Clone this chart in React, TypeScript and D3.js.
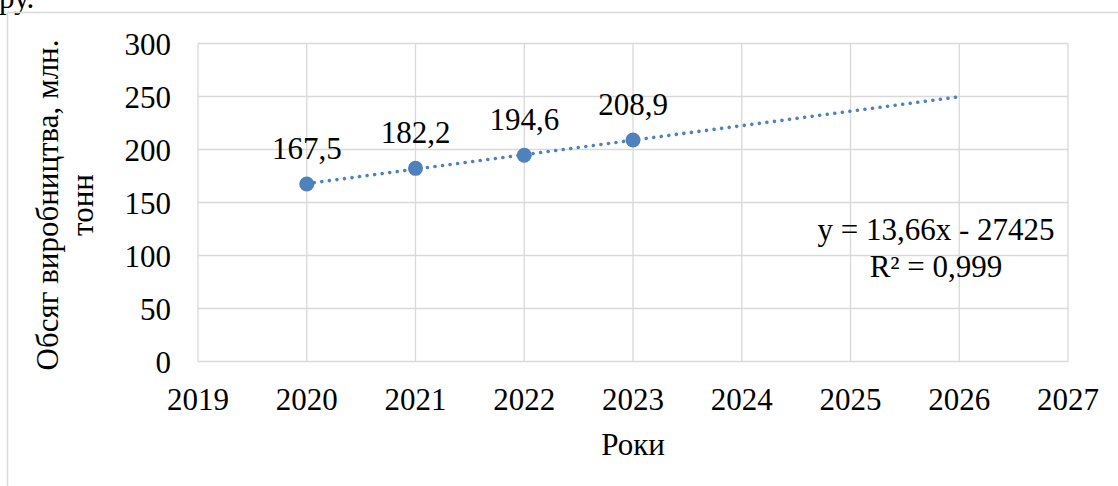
import React from "react";
import * as d3 from "d3";

// Production volume by year
const years: number[] = [2020, 2021, 2022, 2023];
const volumes: number[] = [167.5, 182.2, 194.6, 208.9];

// Axis ticks
const xTicks: number[] = [2019, 2020, 2021, 2022, 2023, 2024, 2025, 2026, 2027];
const yTicks: number[] = [0, 50, 100, 150, 200, 250, 300];

// Linear trend is projected forward to this year
const trendEnd = 2026;

const W = 1118;
const H = 486;
const FONT = '"Liberation Serif", "Times New Roman", serif';
const BLUE = "#4f81bd";
const GRID = "#d9d9d9";

const fmt = (v: number, digits: number) => v.toFixed(digits).replace(".", ",");

function linearFit(xs: number[], ys: number[]) {
  const mx = d3.mean(xs)!;
  const my = d3.mean(ys)!;
  let sxy = 0;
  let sxx = 0;
  let sst = 0;
  xs.forEach((x, i) => {
    sxy += (x - mx) * (ys[i] - my);
    sxx += (x - mx) * (x - mx);
    sst += (ys[i] - my) * (ys[i] - my);
  });
  const slope = sxy / sxx;
  const intercept = my - slope * mx;
  const r2 = (slope * slope * sxx) / sst;
  return { slope, intercept, r2 };
}

export default function App() {
  const left = 198;
  const right = 1068;
  const top = 43.5;
  const bottom = 361.5;

  const x = d3.scaleLinear().domain([2019, 2027]).range([left, right]);
  const y = d3.scaleLinear().domain([0, 300]).range([bottom, top]);

  const fit = linearFit(years, volumes);
  const trendYears = [years[0], trendEnd];
  const trendPath = d3
    .line<number>()
    .x((d) => x(d))
    .y((d) => y(fit.slope * d + fit.intercept))(trendYears) as string;

  const sign = fit.intercept < 0 ? "-" : "+";
  const eqText = `y = ${fmt(fit.slope, 2)}x ${sign} ${Math.round(Math.abs(fit.intercept))}`;
  const r2Text = `R² = ${fmt(fit.r2, 3)}`;

  const titleY = 205;

  return (
    <svg
      width={W}
      height={H}
      style={{ position: "absolute", left: 0, top: 0, background: "#fff" }}
      fontFamily={FONT}
    >
      {/* text from the surrounding page */}
      <text x={-1} y={8} fontSize={31} fill="#000">
        ру.
      </text>
      {/* frame of the chart object */}
      <line x1={7.5} x2={W} y1={12.5} y2={12.5} stroke={GRID} strokeWidth={1.5} />
      <line x1={7.5} x2={7.5} y1={12.5} y2={H} stroke={GRID} strokeWidth={1.5} />

      {/* gridlines */}
      {yTicks.map((t) => (
        <line key={"gy" + t} x1={left} x2={right} y1={y(t)} y2={y(t)} stroke={GRID} strokeWidth={1.3} />
      ))}
      {xTicks.map((t) => (
        <line key={"gx" + t} x1={x(t)} x2={x(t)} y1={top} y2={bottom} stroke={GRID} strokeWidth={1.3} />
      ))}

      {/* tick labels */}
      {yTicks.map((t) => (
        <text key={"ty" + t} x={171} y={y(t) + 11} textAnchor="end" fontSize={31} fill="#000">
          {t}
        </text>
      ))}
      {xTicks.map((t) => (
        <text key={"tx" + t} x={x(t)} y={410} textAnchor="middle" fontSize={31} fill="#000">
          {t}
        </text>
      ))}

      {/* axis titles */}
      <text x={(left + right) / 2} y={455} textAnchor="middle" fontSize={31} fill="#000">
        Роки
      </text>
      <g transform={`translate(58, ${titleY}) rotate(-90)`}>
        <text x={0} y={0} textAnchor="middle" fontSize={31} fill="#000">
          Обсяг виробництва, млн.
        </text>
      </g>
      <g transform={`translate(93, ${titleY}) rotate(-90)`}>
        <text x={0} y={0} textAnchor="middle" fontSize={31} fill="#000">
          тонн
        </text>
      </g>

      {/* trendline */}
      <path
        d={trendPath}
        fill="none"
        stroke={BLUE}
        strokeWidth={3.6}
        strokeLinecap="round"
        strokeDasharray="0.01 7.6"
      />

      {/* points */}
      {years.map((yr, i) => (
        <circle key={"p" + yr} cx={x(yr)} cy={y(volumes[i])} r={7.5} fill={BLUE} />
      ))}

      {/* value labels */}
      {years.map((yr, i) => (
        <text
          key={"l" + yr}
          x={x(yr)}
          y={y(volumes[i]) - 25}
          textAnchor="middle"
          fontSize={31}
          fill="#000"
        >
          {fmt(volumes[i], 1)}
        </text>
      ))}

      {/* trend equation */}
      <text x={936} y={240} textAnchor="middle" fontSize={31} fill="#000">
        {eqText}
      </text>
      <text x={936} y={277} textAnchor="middle" fontSize={31} fill="#000">
        {r2Text}
      </text>
    </svg>
  );
}
